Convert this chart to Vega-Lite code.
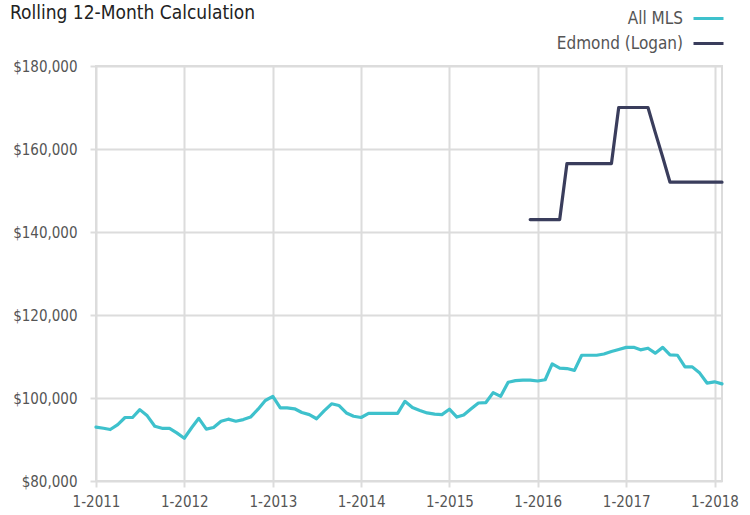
{
  "$schema": "https://vega.github.io/schema/vega-lite/v6.json",
  "width": 626,
  "height": 415,
  "autosize": "none",
  "padding": {"left": 96, "top": 66, "right": 28, "bottom": 34},
  "background": "white",
  "title": {"text": "Rolling 12-Month Calculation", "anchor": "start", "frame": "group", "dx": -86, "offset": -21, "font": "'DejaVu Sans Condensed', Roboto", "fontSize": 19, "fontWeight": "normal", "color": "#222222"},
  "config": {
    "view": {"stroke": "#dcdcdc", "strokeWidth": 2}
  },
  "data": {"values": [
    {"d":"2011-01-01","s":"All MLS","v":93000},
    {"d":"2011-02-01","s":"All MLS","v":92700},
    {"d":"2011-03-01","s":"All MLS","v":92400},
    {"d":"2011-04-01","s":"All MLS","v":93600},
    {"d":"2011-05-01","s":"All MLS","v":95300},
    {"d":"2011-06-01","s":"All MLS","v":95300},
    {"d":"2011-07-01","s":"All MLS","v":97200},
    {"d":"2011-08-01","s":"All MLS","v":95700},
    {"d":"2011-09-01","s":"All MLS","v":93200},
    {"d":"2011-10-01","s":"All MLS","v":92700},
    {"d":"2011-11-01","s":"All MLS","v":92700},
    {"d":"2011-12-01","s":"All MLS","v":91600},
    {"d":"2012-01-01","s":"All MLS","v":90300},
    {"d":"2012-02-01","s":"All MLS","v":92900},
    {"d":"2012-03-01","s":"All MLS","v":95100},
    {"d":"2012-04-01","s":"All MLS","v":92500},
    {"d":"2012-05-01","s":"All MLS","v":92900},
    {"d":"2012-06-01","s":"All MLS","v":94400},
    {"d":"2012-07-01","s":"All MLS","v":94900},
    {"d":"2012-08-01","s":"All MLS","v":94400},
    {"d":"2012-09-01","s":"All MLS","v":94800},
    {"d":"2012-10-01","s":"All MLS","v":95400},
    {"d":"2012-11-01","s":"All MLS","v":97300},
    {"d":"2012-12-01","s":"All MLS","v":99400},
    {"d":"2013-01-01","s":"All MLS","v":100400},
    {"d":"2013-02-01","s":"All MLS","v":97600},
    {"d":"2013-03-01","s":"All MLS","v":97600},
    {"d":"2013-04-01","s":"All MLS","v":97400},
    {"d":"2013-05-01","s":"All MLS","v":96500},
    {"d":"2013-06-01","s":"All MLS","v":96000},
    {"d":"2013-07-01","s":"All MLS","v":95000},
    {"d":"2013-08-01","s":"All MLS","v":96900},
    {"d":"2013-09-01","s":"All MLS","v":98600},
    {"d":"2013-10-01","s":"All MLS","v":98200},
    {"d":"2013-11-01","s":"All MLS","v":96400},
    {"d":"2013-12-01","s":"All MLS","v":95600},
    {"d":"2014-01-01","s":"All MLS","v":95300},
    {"d":"2014-02-01","s":"All MLS","v":96300},
    {"d":"2014-03-01","s":"All MLS","v":96300},
    {"d":"2014-04-01","s":"All MLS","v":96300},
    {"d":"2014-05-01","s":"All MLS","v":96300},
    {"d":"2014-06-01","s":"All MLS","v":96300},
    {"d":"2014-07-01","s":"All MLS","v":99200},
    {"d":"2014-08-01","s":"All MLS","v":97700},
    {"d":"2014-09-01","s":"All MLS","v":97000},
    {"d":"2014-10-01","s":"All MLS","v":96400},
    {"d":"2014-11-01","s":"All MLS","v":96100},
    {"d":"2014-12-01","s":"All MLS","v":96000},
    {"d":"2015-01-01","s":"All MLS","v":97300},
    {"d":"2015-02-01","s":"All MLS","v":95400},
    {"d":"2015-03-01","s":"All MLS","v":95900},
    {"d":"2015-04-01","s":"All MLS","v":97400},
    {"d":"2015-05-01","s":"All MLS","v":98800},
    {"d":"2015-06-01","s":"All MLS","v":98900},
    {"d":"2015-07-01","s":"All MLS","v":101300},
    {"d":"2015-08-01","s":"All MLS","v":100400},
    {"d":"2015-09-01","s":"All MLS","v":103800},
    {"d":"2015-10-01","s":"All MLS","v":104200},
    {"d":"2015-11-01","s":"All MLS","v":104300},
    {"d":"2015-12-01","s":"All MLS","v":104300},
    {"d":"2016-01-01","s":"All MLS","v":104100},
    {"d":"2016-02-01","s":"All MLS","v":104400},
    {"d":"2016-03-01","s":"All MLS","v":108200},
    {"d":"2016-04-01","s":"All MLS","v":107200},
    {"d":"2016-05-01","s":"All MLS","v":107100},
    {"d":"2016-06-01","s":"All MLS","v":106650},
    {"d":"2016-07-01","s":"All MLS","v":110300},
    {"d":"2016-08-01","s":"All MLS","v":110300},
    {"d":"2016-09-01","s":"All MLS","v":110300},
    {"d":"2016-10-01","s":"All MLS","v":110600},
    {"d":"2016-11-01","s":"All MLS","v":111200},
    {"d":"2016-12-01","s":"All MLS","v":111700},
    {"d":"2017-01-01","s":"All MLS","v":112200},
    {"d":"2017-02-01","s":"All MLS","v":112200},
    {"d":"2017-03-01","s":"All MLS","v":111600},
    {"d":"2017-04-01","s":"All MLS","v":112000},
    {"d":"2017-05-01","s":"All MLS","v":110800},
    {"d":"2017-06-01","s":"All MLS","v":112200},
    {"d":"2017-07-01","s":"All MLS","v":110400},
    {"d":"2017-08-01","s":"All MLS","v":110300},
    {"d":"2017-09-01","s":"All MLS","v":107500},
    {"d":"2017-10-01","s":"All MLS","v":107500},
    {"d":"2017-11-01","s":"All MLS","v":106000},
    {"d":"2017-12-01","s":"All MLS","v":103600},
    {"d":"2018-01-01","s":"All MLS","v":103900},
    {"d":"2018-02-01","s":"All MLS","v":103400},
    {"d":"2015-12-01","s":"Edmond (Logan)","v":143000},
    {"d":"2016-01-01","s":"Edmond (Logan)","v":143000},
    {"d":"2016-02-01","s":"Edmond (Logan)","v":143000},
    {"d":"2016-03-01","s":"Edmond (Logan)","v":143000},
    {"d":"2016-04-01","s":"Edmond (Logan)","v":143000},
    {"d":"2016-05-01","s":"Edmond (Logan)","v":156500},
    {"d":"2016-06-01","s":"Edmond (Logan)","v":156500},
    {"d":"2016-07-01","s":"Edmond (Logan)","v":156500},
    {"d":"2016-08-01","s":"Edmond (Logan)","v":156500},
    {"d":"2016-09-01","s":"Edmond (Logan)","v":156500},
    {"d":"2016-10-01","s":"Edmond (Logan)","v":156500},
    {"d":"2016-11-01","s":"Edmond (Logan)","v":156500},
    {"d":"2016-12-01","s":"Edmond (Logan)","v":170000},
    {"d":"2017-01-01","s":"Edmond (Logan)","v":170000},
    {"d":"2017-02-01","s":"Edmond (Logan)","v":170000},
    {"d":"2017-03-01","s":"Edmond (Logan)","v":170000},
    {"d":"2017-04-01","s":"Edmond (Logan)","v":170000},
    {"d":"2017-05-01","s":"Edmond (Logan)","v":164000},
    {"d":"2017-06-01","s":"Edmond (Logan)","v":158000},
    {"d":"2017-07-01","s":"Edmond (Logan)","v":152000},
    {"d":"2017-08-01","s":"Edmond (Logan)","v":152000},
    {"d":"2017-09-01","s":"Edmond (Logan)","v":152000},
    {"d":"2017-10-01","s":"Edmond (Logan)","v":152000},
    {"d":"2017-11-01","s":"Edmond (Logan)","v":152000},
    {"d":"2017-12-01","s":"Edmond (Logan)","v":152000},
    {"d":"2018-01-01","s":"Edmond (Logan)","v":152000},
    {"d":"2018-02-01","s":"Edmond (Logan)","v":152000}
  ]},
  "mark": {"type": "line", "strokeWidth": 3.2, "strokeJoin": "round", "strokeCap": "round"},
  "encoding": {
    "x": {
      "field": "d", "type": "temporal",
      "scale": {"type": "utc", "nice": false, "domain": [{"year": 2011, "month": 1, "date": 1, "utc": true}, {"year": 2018, "month": 2, "date": 1, "utc": true}]},
      "axis": {"title": null, "format": "%-m-%Y", "tickCount": {"interval": "year", "step": 1}, "domain": false, "grid": true, "gridColor": "#dcdcdc", "gridWidth": 2, "ticks": true, "tickColor": "#dcdcdc", "tickWidth": 2, "tickSize": 6, "labelPadding": 7, "labelFont": "'DejaVu Sans Condensed', Roboto", "labelFontSize": 15, "labelColor": "#555555", "labelFlush": false, "labelOverlap": false}
    },
    "y": {
      "field": "v", "type": "quantitative",
      "scale": {"domain": [80000, 180000], "nice": false, "zero": false},
      "axis": {"title": null, "values": [80000, 100000, 120000, 140000, 160000, 180000], "format": "$,.0f", "domain": false, "grid": true, "gridColor": "#dcdcdc", "gridWidth": 2, "ticks": true, "tickColor": "#dcdcdc", "tickWidth": 2, "tickSize": 6, "labelPadding": 13, "labelFont": "'DejaVu Sans Condensed', Roboto", "labelFontSize": 15, "labelColor": "#555555"}
    },
    "color": {
      "field": "s", "type": "nominal",
      "scale": {"domain": ["All MLS", "Edmond (Logan)"], "range": ["#3ec1cc", "#3a3d5c"]},
      "legend": {"title": null, "orient": "none", "legendX": 596, "legendY": -64, "padding": 0, "symbolType": "stroke", "symbolStrokeWidth": 3, "symbolSize": 900, "labelAlign": "right", "labelOffset": -42, "labelFont": "'DejaVu Sans Condensed', Roboto", "labelFontSize": 17, "labelColor": "#555555", "rowPadding": -6}
    }
  }
}
